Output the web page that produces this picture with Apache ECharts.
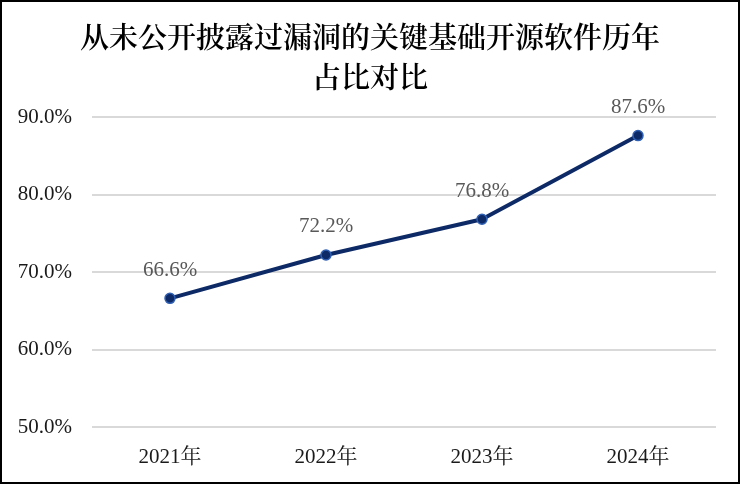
<!DOCTYPE html>
<html>
<head>
<meta charset="utf-8">
<script src="https://cdn.jsdelivr.net/npm/echarts@6/dist/echarts.min.js"></script>
<style>
  html, body { margin: 0; padding: 0; background: #fff; }
  #chart { width: 740px; height: 484px; box-sizing: border-box; border: 2px solid #000; }
</style>
</head>
<body>
<div id="chart"></div>
<script>
const titleText = '从未公开披露过漏洞的关键基础开源软件历年\n占比对比'
const years = ['2021年', '2022年', '2023年', '2024年']
const shareValues = [66.6, 72.2, 76.8, 87.6]
const yTicks = [50, 60, 70, 80, 90]

const serif = '"Liberation Serif", "Times New Roman", serif'
const cjk = '"Noto Serif CJK SC", "Noto Sans CJK SC", serif'

const chart = echarts.init(document.getElementById('chart'))
chart.setOption({
  animation: false,
  title: {
    text: titleText,
    left: 'center',
    top: 10,
    textStyle: {
      fontFamily: cjk,
      fontSize: 29,
      fontWeight: 600,
      color: '#000',
      lineHeight: 40
    }
  },
  grid: { left: 90, right: 22, top: 115, bottom: 55 },
  xAxis: {
    type: 'category',
    data: years,
    axisLine: { show: false },
    axisTick: { show: false },
    axisLabel: {
      margin: 20,
      fontFamily: serif + ', ' + cjk,
      fontSize: 21,
      color: '#1a1a1a'
    }
  },
  yAxis: {
    type: 'value',
    min: yTicks[0],
    max: yTicks[yTicks.length - 1],
    interval: 10,
    axisLine: { show: false },
    axisTick: { show: false },
    splitLine: { lineStyle: { color: '#d9d9d9', width: 2 } },
    axisLabel: {
      margin: 20,
      fontFamily: serif,
      fontSize: 21,
      color: '#1a1a1a',
      formatter: v => v.toFixed(1) + '%'
    }
  },
  series: [{
    type: 'line',
    data: shareValues,
    symbol: 'circle',
    symbolSize: 10,
    lineStyle: { color: '#0d2a66', width: 4 },
    itemStyle: { color: '#0d2a66', borderColor: '#2f5fb3', borderWidth: 1.5 },
    label: {
      show: true,
      position: 'top',
      distance: 12,
      fontFamily: serif,
      fontSize: 21,
      color: '#595959',
      formatter: p => p.value.toFixed(1) + '%'
    }
  }]
})
</script>
</body>
</html>
